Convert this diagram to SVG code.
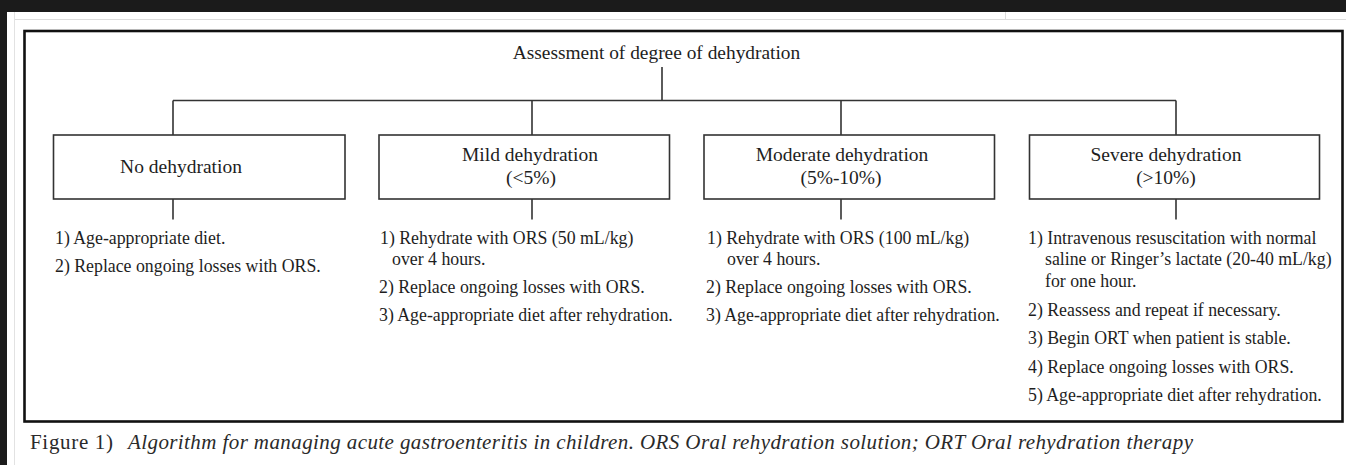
<svg xmlns="http://www.w3.org/2000/svg" width="1346" height="465" viewBox="0 0 1346 465">
<style>
  .t { font-family: "Liberation Serif", "Times New Roman", serif; fill: #1e1e1e; }
  .title { font-size: 19.4px; }
  .lbl { font-size: 19.5px; text-anchor: middle; }
  .li { font-size: 17.8px; }
  .box { fill: #ffffff; stroke: #333333; stroke-width: 1.6; }
  .conn { stroke: #333333; stroke-width: 1.6; fill: none; }
  .cap { font-family: "Liberation Serif", "Times New Roman", serif; font-size: 21px; fill: #2a2a2a; }
</style>
<rect x="0" y="0" width="1346" height="465" fill="#ffffff"/>
<rect x="0" y="0" width="1346" height="12" fill="#1b1b1b"/>
<rect x="0" y="0" width="7" height="465" fill="#1b1b1b"/>
<line x1="14" y1="19.5" x2="1346" y2="19.5" stroke="#dcdcdc" stroke-width="1"/>
<line x1="14.5" y1="12" x2="14.5" y2="465" stroke="#e2e2e2" stroke-width="1"/>
<line x1="1005.5" y1="12" x2="1005.5" y2="19" stroke="#dcdcdc" stroke-width="1"/>
<rect x="24.5" y="31" width="1318" height="390.5" fill="none" stroke="#111111" stroke-width="2.6"/>

<g id="connectors">
  <line class="conn" x1="662" y1="67" x2="662" y2="100.5"/>
  <line class="conn" x1="173" y1="100.5" x2="1176" y2="100.5"/>
  <line class="conn" x1="173" y1="100.5" x2="173" y2="135"/>
  <line class="conn" x1="532" y1="100.5" x2="532" y2="135"/>
  <line class="conn" x1="841" y1="100.5" x2="841" y2="135"/>
  <line class="conn" x1="1176" y1="100.5" x2="1176" y2="135"/>
  <line class="conn" x1="173" y1="199" x2="173" y2="219.5"/>
  <line class="conn" x1="532" y1="199" x2="532" y2="219.5"/>
  <line class="conn" x1="841" y1="199" x2="841" y2="219.5"/>
  <line class="conn" x1="1176" y1="199" x2="1176" y2="219.5"/>
</g>

<g id="title">
  <text class="t title" x="656.5" y="59" text-anchor="middle">Assessment of degree of dehydration</text>
</g>

<g id="no-dehydration">
  <rect class="box" x="53.5" y="135" width="291.5" height="64"/>
  <text class="t lbl" x="181" y="172.5">No dehydration</text>
</g>
<g id="mild-dehydration">
  <rect class="box" x="379" y="135" width="290.5" height="64"/>
  <text class="t lbl" x="530" y="160.5">Mild dehydration</text>
  <text class="t lbl" x="531" y="184">(&lt;5%)</text>
</g>
<g id="moderate-dehydration">
  <rect class="box" x="704" y="135" width="290.5" height="64"/>
  <text class="t lbl" x="842" y="160.5">Moderate dehydration</text>
  <text class="t lbl" x="841" y="184">(5%-10%)</text>
</g>
<g id="severe-dehydration">
  <rect class="box" x="1029.5" y="135" width="290" height="64"/>
  <text class="t lbl" x="1166" y="160.5">Severe dehydration</text>
  <text class="t lbl" x="1166" y="184">(&gt;10%)</text>
</g>

<g id="no-dehydration-steps">
  <text class="t li" x="55" y="244">1) Age-appropriate diet.</text>
  <text class="t li" x="55" y="271.5">2) Replace ongoing losses with ORS.</text>
</g>
<g id="mild-steps">
  <text class="t li" x="380" y="244">1) Rehydrate with ORS (50 mL/kg)</text>
  <text class="t li" x="392" y="264.5">over 4 hours.</text>
  <text class="t li" x="379" y="293">2) Replace ongoing losses with ORS.</text>
  <text class="t li" x="379" y="321">3) Age-appropriate diet after rehydration.</text>
</g>
<g id="moderate-steps">
  <text class="t li" x="707" y="244">1) Rehydrate with ORS (100 mL/kg)</text>
  <text class="t li" x="727" y="264.5">over 4 hours.</text>
  <text class="t li" x="706" y="293">2) Replace ongoing losses with ORS.</text>
  <text class="t li" x="706" y="321">3) Age-appropriate diet after rehydration.</text>
</g>
<g id="severe-steps">
  <text class="t li" x="1028" y="243.5">1) Intravenous resuscitation with normal</text>
  <text class="t li" x="1045" y="265">saline or Ringer’s lactate (20-40 mL/kg)</text>
  <text class="t li" x="1045" y="286.5">for one hour.</text>
  <text class="t li" x="1028" y="315.5">2) Reassess and repeat if necessary.</text>
  <text class="t li" x="1028" y="344">3) Begin ORT when patient is stable.</text>
  <text class="t li" x="1028" y="372.5">4) Replace ongoing losses with ORS.</text>
  <text class="t li" x="1028" y="401">5) Age-appropriate diet after rehydration.</text>
</g>

<g id="caption">
  <text class="cap" x="30" y="449" textLength="83">Figure 1)</text>
  <text class="cap" x="128" y="449" font-style="italic" textLength="1065">Algorithm for managing acute gastroenteritis in children. ORS Oral rehydration solution; ORT Oral rehydration therapy</text>
</g>
</svg>
